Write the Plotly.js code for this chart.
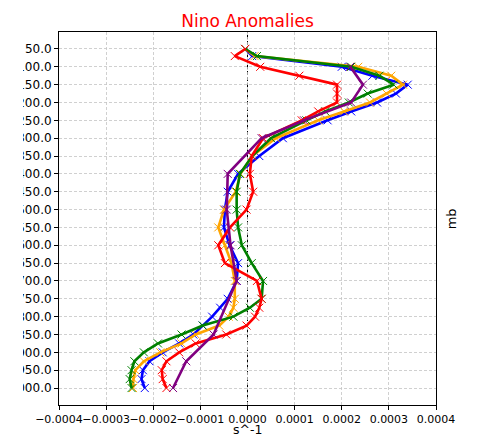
<!DOCTYPE html>
<html>
<head>
<meta charset="utf-8">
<script src="https://cdn.plot.ly/plotly-3.0.1.min.js"></script>
<style>html,body{margin:0;padding:0;background:#fff;overflow:hidden;}</style>
</head>
<body>
<div id="chart" style="width:480px;height:438px;"></div>
<script>
const levelsA = [50,70,100,125,150,175,200,225,250,300,350,400,450,500,550,600,650,700,750,775,800,825,850,875,900,925,950,975,1000];
const levelsB = [100,150,200,250,300,400,500,600,700,850,925,1000];

const blueVals   = [-0.05e-4,0.1e-4,2.0e-4,2.65e-4,3.4e-4,3.15e-4,2.75e-4,2.2e-4,1.7e-4,0.75e-4,0.25e-4,-0.2e-4,-0.42e-4,-0.48e-4,-0.5e-4,-0.38e-4,-0.2e-4,-0.23e-4,-0.42e-4,-0.58e-4,-0.75e-4,-0.95e-4,-1.15e-4,-1.45e-4,-1.8e-4,-2.08e-4,-2.22e-4,-2.25e-4,-2.18e-4];
const orangeVals = [-0.05e-4,0.15e-4,2.35e-4,3.05e-4,3.3e-4,2.95e-4,2.6e-4,2.05e-4,1.5e-4,0.6e-4,0.1e-4,-0.15e-4,-0.25e-4,-0.5e-4,-0.62e-4,-0.48e-4,-0.34e-4,-0.27e-4,-0.27e-4,-0.3e-4,-0.4e-4,-0.6e-4,-1.1e-4,-1.4e-4,-1.85e-4,-2.2e-4,-2.38e-4,-2.42e-4,-2.43e-4];
const greenVals  = [-0.05e-4,0.2e-4,2.2e-4,2.8e-4,3.1e-4,2.55e-4,2.15e-4,1.65e-4,1.25e-4,0.5e-4,0.1e-4,-0.16e-4,-0.23e-4,-0.23e-4,-0.2e-4,-0.12e-4,0.09e-4,0.33e-4,0.3e-4,0.05e-4,-0.3e-4,-0.95e-4,-1.4e-4,-1.9e-4,-2.2e-4,-2.4e-4,-2.46e-4,-2.5e-4,-2.46e-4];
const redVals    = [-0.05e-4,-0.27e-4,0.27e-4,1.1e-4,1.9e-4,1.9e-4,1.9e-4,1.5e-4,1.15e-4,0.33e-4,0.09e-4,0.05e-4,0.12e-4,-0.02e-4,-0.37e-4,-0.62e-4,-0.48e-4,0.2e-4,0.3e-4,0.25e-4,0.16e-4,-0.02e-4,-0.45e-4,-1.1e-4,-1.45e-4,-1.72e-4,-1.82e-4,-1.8e-4,-1.72e-4];
const purpleVals = [2.18e-4,2.45e-4,2.2e-4,1.2e-4,0.3e-4,-0.42e-4,-0.44e-4,-0.36e-4,-0.23e-4,-0.72e-4,-1.3e-4,-1.58e-4];

const seriesList = [
  {x: blueVals, y: levelsA, c: '#0000ff'},
  {x: orangeVals, y: levelsA, c: '#ffa500'},
  {x: greenVals, y: levelsA, c: '#008000'},
  {x: redVals, y: levelsA, c: '#ff0000'},
  {x: purpleVals, y: levelsB, c: '#800080'}
];

const traces = seriesList.map(s => ({
  type: 'scatter', mode: 'lines+markers', x: s.x, y: s.y,
  line: {color: s.c, width: 2.6},
  marker: {symbol: 'x-thin', size: 8, line: {color: s.c, width: 1}, color: s.c},
  showlegend: false, hoverinfo: 'skip'
}));

const font = 'DejaVu Sans, sans-serif';
const plotW = 480 - 59 - 44;
const plotH = 438 - 32 - 33;
const layout = {
  width: 480, height: 438,
  margin: {l: 59, r: 44, t: 32, b: 33},
  paper_bgcolor: '#fff', plot_bgcolor: '#fff',
  title: {text: 'Nino Anomalies', font: {family: font, size: 17, color: '#ff0000'}, x: 0.5, xref: 'paper', xanchor: 'center', y: 0.953, yanchor: 'middle'},
  xaxis: {
    range: [-0.0004, 0.0004], dtick: 0.0001, tick0: 0, tickformat: '.4f', tickangle: 0,
    showgrid: true, gridcolor: '#c4c4c4', griddash: '3px,2px', gridwidth: 0.8,
    zeroline: false, showline: true, linecolor: '#000', linewidth: 1, mirror: true,
    ticks: 'outside', ticklen: 3.5, tickcolor: '#000',
    tickfont: {family: font, size: 11, color: '#000'},
    automargin: false
  },
  yaxis: {
    range: [1047.5, 2.5], dtick: 50, tick0: 50, tickformat: '.1f',
    showgrid: true, gridcolor: '#c4c4c4', griddash: '3px,2px', gridwidth: 0.8,
    zeroline: false, showline: true, linecolor: '#000', linewidth: 1, mirror: true,
    ticks: 'outside', ticklen: 4, tickcolor: '#000',
    tickfont: {family: font, size: 12, color: '#000'},
    automargin: false
  },
  shapes: [
    {type: 'line', xref: 'x', yref: 'paper', x0: 0, x1: 0, y0: 0, y1: 1,
     line: {color: '#000', width: 1, dash: '4px,2px'}, layer: 'below'},
    {type: 'rect', xref: 'paper', yref: 'paper', x0: -59 / plotW, x1: -36 / plotW, y0: -0.02, y1: 1.02,
     fillcolor: '#ffffff', line: {width: 0}, layer: 'above'}
  ],
  annotations: [
    {text: 'mb', xref: 'paper', yref: 'paper', x: 1.042, y: 0.5,
     xanchor: 'center', yanchor: 'middle', textangle: -90, showarrow: false,
     font: {family: font, size: 13, color: '#000'}},
    {text: 's^-1', xref: 'paper', yref: 'paper', x: 0.5, y: -33 / plotH,
     xanchor: 'center', yanchor: 'bottom', showarrow: false, borderpad: 0,
     font: {family: font, size: 12.5, color: '#000'}}
  ]
};

Plotly.newPlot('chart', traces, layout, {displayModeBar: false, staticPlot: true});
</script>
</body>
</html>
